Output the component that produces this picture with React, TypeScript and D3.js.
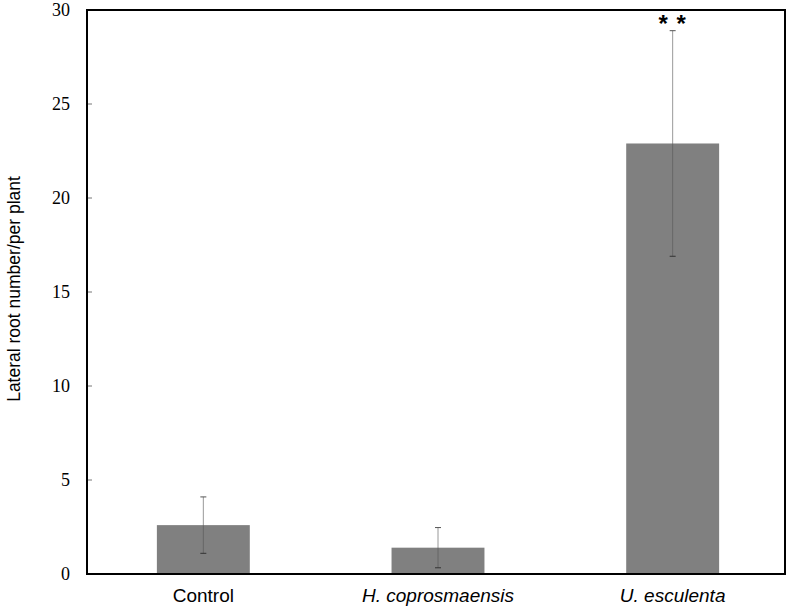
import React from "react";
import * as d3 from "d3";

const categories = ["Control", "H. coprosmaensis", "U. esculenta"];
const italicFlags = [false, true, true];
const means = [2.6, 1.4, 22.9];
const errors = [1.5, 1.07, 6.0];
const significance = ["", "", "* *"];
const yTicks = [0, 5, 10, 15, 20, 25, 30];
const yTitle = "Lateral root number/per plant";

export default function App() {
  const W = 796, H = 610;
  const left = 87, right = 785, top = 10, bottom = 574;
  const y = d3.scaleLinear().domain([0, 30]).range([bottom, top]);
  const x = d3.scaleBand<string>().domain(categories).range([86, 790]).paddingInner(0.604).paddingOuter(0.302);
  const bw = x.bandwidth();
  return (
    <svg width={W} height={H} style={{ position: "absolute", left: 0, top: 0, background: "#fff" }}>
      {categories.map((c, i) => {
        const cx = (x(c) as number) + bw / 2;
        return (
          <g key={c}>
            <rect x={x(c)} y={y(means[i])} width={bw} height={y(0) - y(means[i])} fill="#808080" />
            <line x1={cx} x2={cx} y1={y(means[i] + errors[i])} y2={y(means[i] - errors[i])} stroke="#555" strokeWidth={1} strokeOpacity={0.6} />
            <line x1={cx - 3} x2={cx + 3} y1={y(means[i] + errors[i])} y2={y(means[i] + errors[i])} stroke="#555" strokeWidth={1} />
            <line x1={cx - 3} x2={cx + 3} y1={y(means[i] - errors[i])} y2={y(means[i] - errors[i])} stroke="#333" strokeWidth={1} />
            {significance[i] && (
              <text x={cx} y={y(means[i] + errors[i]) + 1} textAnchor="middle" fontFamily="Liberation Sans, Arial, sans-serif" fontWeight="bold" fontSize={24} letterSpacing={1}>{significance[i]}</text>
            )}
            <text x={cx} y={602} textAnchor="middle" fontFamily="Liberation Sans, Arial, sans-serif" fontSize={19} fontStyle={italicFlags[i] ? "italic" : "normal"}>{c}</text>
          </g>
        );
      })}
      {yTicks.map((t) => (
        <g key={t}>
          {t > 0 && t < 30 && <line x1={left} x2={left + 5} y1={y(t)} y2={y(t)} stroke="#777" strokeWidth={1} />}
          <text x={70} y={y(t)} dy="0.35em" textAnchor="end" fontFamily="Liberation Serif, Times New Roman, serif" fontSize={18}>{t}</text>
        </g>
      ))}
      <rect x={left} y={top} width={right - left} height={bottom - top} fill="none" stroke="#000" strokeWidth={2} />
      <text transform={`translate(20,289) rotate(-90)`} textAnchor="middle" fontFamily="Liberation Sans, Arial, sans-serif" fontSize={17.5}>{yTitle}</text>
    </svg>
  );
}
